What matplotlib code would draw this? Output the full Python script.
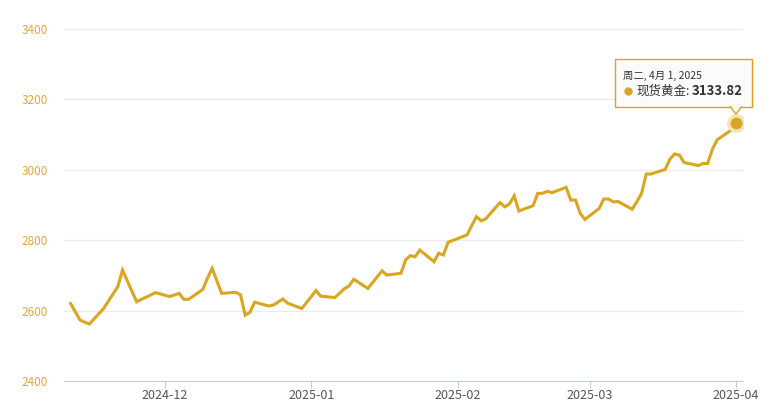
import numpy as np
import matplotlib
matplotlib.use("Agg")
import matplotlib.pyplot as plt
import matplotlib.dates as mdates
from matplotlib.patches import Rectangle, Polygon
from matplotlib.transforms import ScaledTranslation

plt.rcParams['font.family'] = ['Noto Sans CJK SC', 'DejaVu Sans']

# spot gold, daily close
dates = [
    '2024-11-11', '2024-11-13', '2024-11-14', '2024-11-15', '2024-11-18',
    '2024-11-21', '2024-11-22', '2024-11-25', '2024-11-26', '2024-11-27',
    '2024-11-29', '2024-12-02', '2024-12-04', '2024-12-05', '2024-12-06',
    '2024-12-09', '2024-12-10', '2024-12-11', '2024-12-13', '2024-12-16',
    '2024-12-17', '2024-12-18', '2024-12-19', '2024-12-20', '2024-12-23',
    '2024-12-24', '2024-12-26', '2024-12-27', '2024-12-30', '2025-01-02',
    '2025-01-03', '2025-01-06', '2025-01-08', '2025-01-09', '2025-01-10',
    '2025-01-13', '2025-01-16', '2025-01-17', '2025-01-20', '2025-01-21',
    '2025-01-22', '2025-01-23', '2025-01-24', '2025-01-27', '2025-01-28',
    '2025-01-29', '2025-01-30', '2025-02-03', '2025-02-05', '2025-02-06',
    '2025-02-07', '2025-02-10', '2025-02-11', '2025-02-12', '2025-02-13',
    '2025-02-14', '2025-02-17', '2025-02-18', '2025-02-19', '2025-02-20',
    '2025-02-21', '2025-02-24', '2025-02-25', '2025-02-26', '2025-02-27',
    '2025-02-28', '2025-03-03', '2025-03-04', '2025-03-05', '2025-03-06',
    '2025-03-07', '2025-03-10', '2025-03-11', '2025-03-12', '2025-03-13',
    '2025-03-14', '2025-03-17', '2025-03-18', '2025-03-19', '2025-03-20',
    '2025-03-21', '2025-03-24', '2025-03-25', '2025-03-26', '2025-03-27',
    '2025-03-28', '2025-03-31', '2025-04-01',
]
prices = [
    2620, 2573, 2567, 2562, 2606,
    2668, 2715, 2625, 2632, 2638,
    2651, 2640, 2649, 2632, 2632,
    2660, 2692, 2720, 2649, 2652,
    2645, 2587, 2595, 2624, 2613,
    2616, 2633, 2621, 2606, 2657,
    2641, 2637, 2662, 2670, 2689,
    2663, 2713, 2701, 2706, 2744,
    2756, 2753, 2772, 2739, 2763,
    2758, 2794, 2815, 2867, 2855,
    2861, 2907, 2895, 2903, 2926,
    2883, 2898, 2933, 2933, 2939,
    2935, 2950, 2914, 2914, 2876,
    2859, 2890, 2917, 2917, 2909,
    2910, 2888, 2909, 2933, 2988,
    2988, 3001, 3030, 3045, 3042,
    3021, 3012, 3018, 3018, 3058,
    3085, 3113, 3133.82,
]
month_ticks = ['2024-12-01', '2025-01-01', '2025-02-01', '2025-03-01', '2025-04-01']
month_labels = ['2024-12', '2025-01', '2025-02', '2025-03', '2025-04']
y_ticks = [2400, 2600, 2800, 3000, 3200, 3400]

gold = '#DAA520'
x = mdates.datestr2num(dates)

fig = plt.figure(figsize=(7.82, 4.09), dpi=100)
ax = fig.add_axes([64 / 782, 28 / 409, 679 / 782, 352 / 409])

ax.plot(x, prices, color=gold, lw=2.2, solid_joinstyle='miter', zorder=3)
ax.plot(x[-1], prices[-1], 'o', ms=12.5, color='#f5e4b8', zorder=4)
ax.plot(x[-1], prices[-1], 'o', ms=7.5, color=gold, zorder=5)

ax.set_ylim(2400, 3400)
ax.set_xlim(x[0] - 1.4, x[-1] + 1.5)
ax.set_yticks(y_ticks)
ax.set_xticks(mdates.datestr2num(month_ticks))
ax.set_xticklabels(month_labels)
ax.grid(axis='y', color='#ebebeb', lw=1)
ax.set_axisbelow(True)
for s in ['top', 'right', 'left']:
    ax.spines[s].set_visible(False)
ax.spines['bottom'].set_color('#c3cddb')
ax.tick_params(axis='y', length=0, pad=11.5, labelcolor='#e3a83c', labelsize=8.5)
ax.tick_params(axis='x', length=5, color='#c3cddb', labelcolor='#555555',
               labelsize=9, pad=1)

# tooltip, positioned in pixels relative to the last point
tr = fig.dpi_scale_trans + ScaledTranslation(x[-1], prices[-1], ax.transData)
box = Rectangle((-1.207, 0.16), 1.37, 0.475, transform=tr, facecolor='#fbfbfb',
                edgecolor=gold, lw=1, clip_on=False, zorder=6)
ax.add_patch(box)
shadow = Rectangle((-1.19, 0.145), 1.37, 0.475, transform=tr, facecolor='#dddddd',
                   edgecolor='none', clip_on=False, zorder=5.5, alpha=0.6)
ax.add_patch(shadow)
tip = Polygon([[-0.06, 0.165], [0.0, 0.085], [0.06, 0.165]], closed=False,
              transform=tr, facecolor='#fbfbfb', edgecolor=gold, lw=1,
              clip_on=False, zorder=7)
ax.add_patch(tip)
ax.text(-1.13, 0.465, '周二, 4月 1, 2025', transform=tr, fontsize=7.5,
        color='#333333', va='center', ha='left', zorder=8)
ax.plot([-1.078], [0.32], 'o', ms=5, color=gold, transform=tr, clip_on=False,
        zorder=8)
ax.text(-1.0, 0.32, '现货黄金:', transform=tr, fontsize=9, color='#333333',
        va='center', ha='left', zorder=8)
ax.text(0.065, 0.32, '3133.82', transform=tr, fontsize=9.5, color='#333333',
        fontweight='bold', va='center', ha='right', zorder=8)

fig.savefig('out.png', dpi=100)
